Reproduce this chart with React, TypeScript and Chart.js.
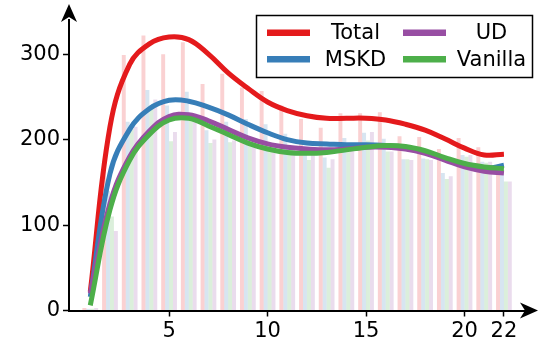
import React, { useEffect, useRef } from 'react';
import { Chart, registerables } from 'chart.js';

Chart.register(...registerables);

// ---------- data ----------
const xValues = [1, 2, 3, 4, 5, 6, 7, 8, 9, 10, 11, 12, 13, 14, 15, 16, 17, 18, 19, 20, 21, 22];

const totalBars = [3, 168, 299, 322, 300, 314, 265, 277, 261, 257, 240, 224, 214, 231, 231, 232, 204, 203, 189, 202, 191, 171];
const mskdBars = [2, 140, 221, 258, 240, 256, 211, 221, 224, 218, 207, 183, 179, 202, 208, 201, 177, 178, 161, 182, 174, 168];
const vanillaBars = [2, 110, 212, 240, 198, 222, 196, 197, 197, 190, 187, 176, 167, 186, 199, 186, 177, 177, 154, 180, 173, 151];
const udBars = [3, 93, 215, 247, 209, 226, 200, 199, 196, 192, 188, 182, 177, 188, 209, 186, 176, 176, 157, 182, 174, 151];

const totalLine = [22, 215, 288, 312, 320, 317, 300, 278, 260, 244, 234, 228, 225, 225, 225, 223, 218, 211, 201, 190, 182, 183];
const mskdLine = [16, 160, 212, 236, 246, 245, 238, 229, 218, 208, 200, 196, 195, 194, 194, 193, 191, 185, 177, 170, 166, 170];
const udLine = [20, 125, 180, 210, 227, 229, 222, 212, 202, 195, 191, 189, 188, 189, 191, 191, 189, 184, 176, 168, 163, 161];
const vanillaLine = [6, 118, 176, 206, 223, 225, 216, 206, 196, 189, 185, 184, 185, 188, 191, 193, 192, 187, 179, 172, 168, 166];

const xTicks = [5, 10, 15, 20, 22];
const yTicks = [0, 100, 200, 300];

const seriesNames = ['Total', 'MSKD', 'UD', 'Vanilla'];
const COLORS: Record<string, string> = {
  Total: '#e41a1c',
  MSKD: '#377eb8',
  UD: '#984ea3',
  Vanilla: '#4daf4a',
};
const BAR_COLORS: Record<string, string> = {
  Total: 'rgba(228,26,28,0.2)',
  MSKD: 'rgba(55,126,184,0.2)',
  UD: 'rgba(152,78,163,0.2)',
  Vanilla: 'rgba(77,175,74,0.2)',
};

const FONT = "'DejaVu Sans', sans-serif";

function pts(arr: number[]) {
  return xValues.map((x, i) => ({ x, y: arr[i] }));
}

function drawArrow(ctx: CanvasRenderingContext2D, tipX: number, tipY: number, dx: number, dy: number) {
  const len = 18;
  const half = 8;
  const notch = 5;
  const bx = tipX - dx * len;
  const by = tipY - dy * len;
  const px = -dy;
  const py = dx;
  ctx.beginPath();
  ctx.moveTo(tipX, tipY);
  ctx.lineTo(bx + px * half, by + py * half);
  ctx.lineTo(tipX - dx * (len - notch), tipY - dy * (len - notch));
  ctx.lineTo(bx - px * half, by - py * half);
  ctx.closePath();
  ctx.fillStyle = '#000';
  ctx.fill();
}

const decorPlugin = {
  id: 'decor',
  afterDraw(chart: any) {
    const { ctx, chartArea } = chart;
    ctx.save();
    drawArrow(ctx, chartArea.right + 13, chartArea.bottom, 1, 0);
    drawArrow(ctx, chartArea.left, chartArea.top - 16, 0, -1);

    const lx = 256.5, ly = 15.5, lw = 276, lh = 62;
    ctx.fillStyle = '#fff';
    ctx.fillRect(lx, ly, lw, lh);
    ctx.strokeStyle = '#000';
    ctx.lineWidth = 1.5;
    ctx.strokeRect(lx, ly, lw, lh);
    const entries = [
      { name: 'Total', col: 0, row: 0 },
      { name: 'MSKD', col: 0, row: 1 },
      { name: 'UD', col: 1, row: 0 },
      { name: 'Vanilla', col: 1, row: 1 },
    ];
    const rowY = [32.7, 59.3];
    const handleX = [267, 403];
    const textX = [355.5, 491.5];
    ctx.font = `21px ${FONT}`;
    ctx.textAlign = 'center';
    ctx.textBaseline = 'middle';
    entries.forEach((e) => {
      ctx.strokeStyle = COLORS[e.name];
      ctx.lineWidth = 6.5;
      ctx.beginPath();
      ctx.moveTo(handleX[e.col], rowY[e.row]);
      ctx.lineTo(handleX[e.col] + 43, rowY[e.row]);
      ctx.stroke();
      ctx.fillStyle = '#000';
      ctx.fillText(e.name, textX[e.col], rowY[e.row] + 1);
    });
    ctx.restore();
  },
};

export default function App() {
  const ref = useRef<HTMLCanvasElement | null>(null);

  useEffect(() => {
    if (!ref.current) return;
    const barOrder = ['Total', 'MSKD', 'Vanilla', 'UD'];
    const barData: Record<string, number[]> = { Total: totalBars, MSKD: mskdBars, Vanilla: vanillaBars, UD: udBars };
    const lineData: Record<string, number[]> = { Total: totalLine, MSKD: mskdLine, UD: udLine, Vanilla: vanillaLine };

    const datasets: any[] = [];
    barOrder.forEach((name) => {
      datasets.push({
        type: 'bar',
        label: name + ' bars',
        data: pts(barData[name]),
        backgroundColor: BAR_COLORS[name],
        borderWidth: 0,
        categoryPercentage: 0.8,
        barPercentage: 1.0,
        order: 10,
      });
    });
    seriesNames.forEach((name, i) => {
      datasets.push({
        type: 'line',
        label: name,
        data: pts(lineData[name]),
        borderColor: COLORS[name],
        backgroundColor: COLORS[name],
        borderWidth: 5,
        pointRadius: 0,
        fill: false,
        tension: 0.4,
        order: 4 - i,
      });
    });

    const chart = new Chart(ref.current, {
      type: 'bar',
      data: { datasets },
      plugins: [decorPlugin],
      options: {
        animation: false,
        responsive: false,
        maintainAspectRatio: false,
        layout: { padding: { left: 0, right: 15, top: 20, bottom: 0 } },
        plugins: {
          legend: { display: false },
          tooltip: { enabled: false },
        },
        scales: {
          x: {
            type: 'linear',
            min: -0.08,
            max: 23.07,
            offset: false,
            grid: {
              offset: false,
              drawOnChartArea: false,
              drawTicks: true,
              tickLength: 6,
              tickColor: '#000',
              tickWidth: 1.5,
            },
            border: { display: true, color: '#000', width: 2 },
            ticks: {
              color: '#000',
              font: { family: FONT, size: 21 },
              padding: 2,
              maxRotation: 0,
              autoSkip: false,
            },
            afterBuildTicks: (axis: any) => {
              axis.ticks = xTicks.map((v) => ({ value: v }));
            },
            afterFit: (scale: any) => {
              scale.height = 32.5;
            },
          },
          y: {
            type: 'linear',
            min: 0,
            max: 340,
            grid: {
              offset: false,
              drawOnChartArea: false,
              drawTicks: true,
              tickLength: 6,
              tickColor: '#000',
              tickWidth: 1.5,
            },
            border: { display: true, color: '#000', width: 2 },
            ticks: {
              color: '#000',
              font: { family: FONT, size: 21 },
              padding: 3,
            },
            afterBuildTicks: (axis: any) => {
              axis.ticks = yTicks.map((v) => ({ value: v }));
            },
            afterFit: (scale: any) => {
              scale.width = 69;
            },
          },
        },
      },
    });
    return () => chart.destroy();
  }, []);

  return (
    <div style={{ position: 'absolute', left: 0, top: 0, width: 540, height: 343, background: '#fff' }}>
      <canvas ref={ref} width={540} height={343} style={{ display: 'block', width: 540, height: 343 }} />
    </div>
  );
}
